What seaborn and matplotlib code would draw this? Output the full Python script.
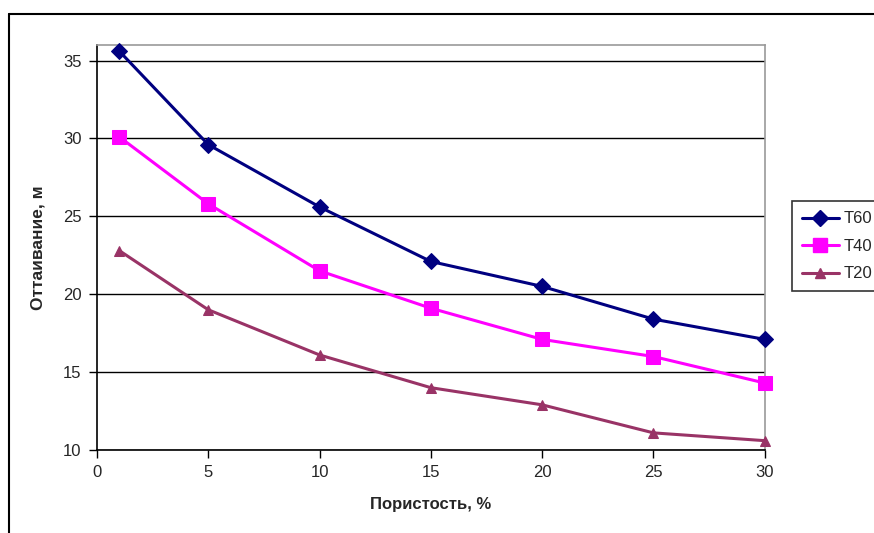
import pandas as pd
import matplotlib.pyplot as plt
import seaborn as sns
from matplotlib.lines import Line2D

# Data
porosity = [1, 5, 10, 15, 20, 25, 30]
t60 = [35.6, 29.6, 25.6, 22.1, 20.5, 18.4, 17.1]
t40 = [30.1, 25.8, 21.5, 19.1, 17.1, 16.0, 14.3]
t20 = [22.8, 19.0, 16.1, 14.0, 12.9, 11.1, 10.6]
series_names = ['T60', 'T40', 'T20']

colors = {'T60': '#000080', 'T40': '#FF00FF', 'T20': '#993366'}
markers = {'T60': 'D', 'T40': 's', 'T20': '^'}
msizes = {'T60': 8, 'T40': 10, 'T20': 7}

df = pd.DataFrame({'x': porosity * 3,
                   'y': t60 + t40 + t20,
                   'series': [n for n in series_names for _ in porosity]})

sns.set_style('white')
plt.rcParams['font.family'] = ['Liberation Sans', 'DejaVu Sans']

fig = plt.figure(figsize=(8.74, 5.33), dpi=100)
ax = fig.add_axes([0.111, 0.1557, 0.764, 0.76])

for name in series_names:
    sub = df[df['series'] == name]
    sns.lineplot(data=sub, x='x', y='y', ax=ax, color=colors[name],
                 marker=markers[name], markersize=msizes[name],
                 markeredgecolor=colors[name], linewidth=2.2, legend=False,
                 clip_on=False, zorder=3)

ax.set_xlim(0, 30)
ax.set_ylim(10, 36)
ax.set_xticks([0, 5, 10, 15, 20, 25, 30])
ax.set_yticks([10, 15, 20, 25, 30, 35])
ax.yaxis.grid(True, color='black', linewidth=1)
ax.set_axisbelow(True)
ax.tick_params(axis='both', labelsize=12, direction='out', length=6,
               width=1, color='black', bottom=True, left=True, pad=5)
ax.set_xlabel('Пористость, %', fontsize=12, fontweight='bold', labelpad=12)
ax.set_ylabel('Оттаивание, м', fontsize=12.5, fontweight='bold', labelpad=13)

for side in ['left', 'bottom']:
    ax.spines[side].set_color('black')
    ax.spines[side].set_linewidth(1.2)
for side in ['top', 'right']:
    ax.spines[side].set_color('#999999')
    ax.spines[side].set_linewidth(1.2)

# legend on the right, running up to the figure edge like the original
handles = [Line2D([0], [0], color=colors[n], marker=markers[n],
                  markersize=msizes[n], linewidth=2.2) for n in series_names]
fig.legend(handles, series_names, loc='upper left',
           bbox_to_anchor=(0.906, 0.622), fontsize=12, frameon=True,
           fancybox=False, edgecolor='black', handlelength=2.2,
           labelspacing=0.75, borderpad=0.6, handletextpad=0.3,
           borderaxespad=0)
fig.legends[0].get_frame().set_linewidth(1.2)

# outer chart-area border (left and top visible)
fig.add_artist(Line2D([0.0103, 0.0103], [0, 0.974], color='black', linewidth=1.5,
                      transform=fig.transFigure))
fig.add_artist(Line2D([0.0103, 1], [0.974, 0.974], color='black', linewidth=1.5,
                      transform=fig.transFigure))

fig.savefig('out.png', dpi=100)
